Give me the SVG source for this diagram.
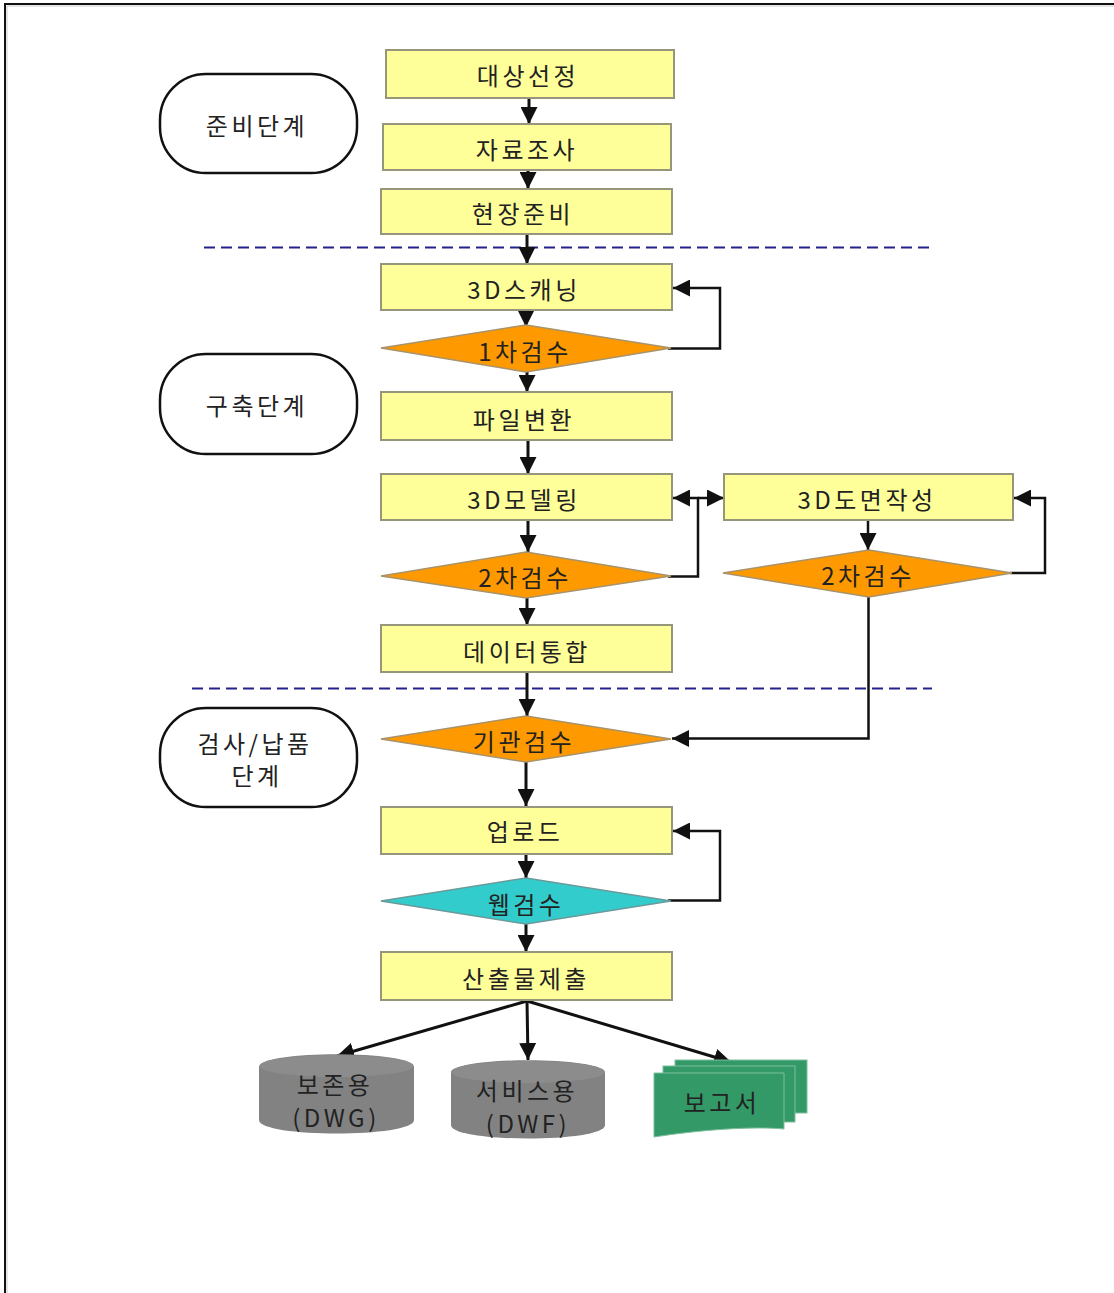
<svg xmlns="http://www.w3.org/2000/svg" width="1114" height="1293" viewBox="0 0 1114 1293">
<style>
text{font-family:"Noto Sans CJK KR","Liberation Sans",sans-serif;font-size:24px;fill:#222;text-anchor:middle;letter-spacing:3.500px}
.b{fill:#ffff99;stroke:#96967a;stroke-width:2}
.d{fill:#ff9900;stroke:#a8936a;stroke-width:1.500}
.p{fill:#fff;stroke:#111;stroke-width:2.500}
.c{fill:none;stroke:#111;stroke-width:3}
.l{stroke:#22228c;stroke-width:2;stroke-dasharray:11 6;fill:none}
.g{fill:#828282}
.t{fill:#8c8c8c}
.h{fill:#339966;stroke:#7fbf9f;stroke-width:1}
</style>
<defs>
<marker id="a" markerUnits="userSpaceOnUse" markerWidth="18" markerHeight="17" refX="17" refY="8.500" orient="auto"><path d="M0 0L17 8.500L0 17z" fill="#111"/></marker>
</defs>
<path d="M1114 6H7V1293" fill="none" stroke="#ccc" stroke-width="1"/>
<path d="M1114 4H5V1293" fill="none" stroke="#111" stroke-width="2"/>
<g id="separators">
<path class="l" d="M204 247.500H930"/>
<path class="l" d="M192 688.500H932"/>
</g>
<g id="connectors">
<path class="c" marker-end="url(#a)" d="M529 98V124"/>
<path class="c" marker-end="url(#a)" d="M528 170V189"/>
<path class="c" marker-end="url(#a)" d="M527 234V264"/>
<path class="c" marker-end="url(#a)" d="M526 310V327"/>
<path class="c" marker-end="url(#a)" d="M527 372V392"/>
<path class="c" marker-end="url(#a)" d="M528 440V474"/>
<path class="c" marker-end="url(#a)" d="M528 520V552"/>
<path class="c" marker-end="url(#a)" d="M527 598V625"/>
<path class="c" marker-end="url(#a)" d="M527 672V716"/>
<path class="c" marker-end="url(#a)" d="M526 762V806"/>
<path class="c" marker-end="url(#a)" d="M526 854V878"/>
<path class="c" marker-end="url(#a)" d="M526 924V952"/>
<path class="c" style="stroke-width:2.500" marker-end="url(#a)" d="M668 348.500H720V288H673"/>
<path class="c" style="stroke-width:2.500" marker-end="url(#a)" d="M668 576.500H698V498H673"/>
<path class="c" style="stroke-width:2.500" marker-end="url(#a)" d="M698 498H724"/>
<path class="c" style="stroke-width:2.500" marker-end="url(#a)" d="M1010 573H1045V498H1014"/>
<path class="c" style="stroke-width:2.500" marker-end="url(#a)" d="M868 520V550"/>
<path class="c" style="stroke-width:2.500" marker-end="url(#a)" d="M868.500 597V738.500H672"/>
<path class="c" style="stroke-width:2.500" marker-end="url(#a)" d="M668 900.500H720V831H673"/>
<path class="c" marker-end="url(#a)" d="M527 1001L337 1056"/>
<path class="c" marker-end="url(#a)" d="M527 1001L528 1060"/>
<path class="c" marker-end="url(#a)" d="M527 1001L731 1062"/>
</g>
<g id="n1"><rect class="b" x="386" y="50" width="288" height="48"/><text x="528" y="85">대상선정</text></g>
<g id="n2"><rect class="b" x="383" y="124" width="288" height="46"/><text x="527" y="159">자료조사</text></g>
<g id="n3"><rect class="b" x="381" y="189" width="291" height="45"/><text x="523" y="223">현장준비</text></g>
<g id="n4"><rect class="b" x="381" y="264" width="291" height="46"/><text x="524" y="299">3D스캐닝</text></g>
<g id="n5"><path class="d" d="M381 348L526 325L671 348L526 372z"/><text x="525" y="361">1차검수</text></g>
<g id="n6"><rect class="b" x="381" y="392" width="291" height="48"/><text x="524" y="429">파일변환</text></g>
<g id="n7"><rect class="b" x="381" y="474" width="291" height="46"/><text x="524" y="509">3D모델링</text></g>
<g id="n8"><path class="d" d="M381 576L526 552L671 576L526 598z"/><text x="525" y="587">2차검수</text></g>
<g id="n9"><rect class="b" x="724" y="474" width="289" height="46"/><text x="867" y="509">3D도면작성</text></g>
<g id="n10"><path class="d" d="M723 573L869 550L1012 573L869 597z"/><text x="868" y="585">2차검수</text></g>
<g id="n11"><rect class="b" x="381" y="625" width="291" height="47"/><text x="527" y="661">데이터통합</text></g>
<g id="n12"><path class="d" d="M381 739L526 716L671 739L526 762z"/><text x="524" y="751">기관검수</text></g>
<g id="n13"><rect class="b" x="381" y="807" width="291" height="47"/><text x="525" y="841">업로드</text></g>
<g id="n14"><path fill="#33cccc" stroke="#6a9a9a" stroke-width="1.500" d="M381 901L526 878L671 901L526 924z"/><text x="526" y="914">웹검수</text></g>
<g id="n15"><rect class="b" x="381" y="952" width="291" height="48"/><text x="526" y="988">산출물제출</text></g>
<g id="p1"><rect class="p" x="160" y="74" width="197" height="99" rx="46"/><text x="257" y="135">준비단계</text></g>
<g id="p2"><rect class="p" x="160" y="354" width="197" height="100" rx="46"/><text x="257" y="415">구축단계</text></g>
<g id="p3"><rect class="p" x="160" y="708" width="197" height="99" rx="46"/><text x="255" y="753">검사/납품</text><text x="257" y="785">단계</text></g>
<g id="o1"><path class="g" d="M259 1067C259 1050 414 1050 414 1067V1120C414 1138 259 1138 259 1120z"/><ellipse class="t" cx="336.500" cy="1066" rx="77" ry="11"/><text x="335" y="1094">보존용</text><text x="336" y="1127">(DWG)</text></g>
<g id="o2"><path class="g" d="M451 1073C451 1056 605 1056 605 1073V1125C605 1143 451 1143 451 1125z"/><ellipse class="t" cx="528" cy="1072" rx="77" ry="11"/><text x="527" y="1100">서비스용</text><text x="528" y="1133">(DWF)</text></g>
<g id="o3"><rect class="h" x="675" y="1060" width="132" height="53"/><rect class="h" x="663" y="1066" width="132" height="56"/><path class="h" d="M654 1073H784V1129C750 1126 700 1130 654 1137z"/><text x="722" y="1112">보고서</text></g>
</svg>
